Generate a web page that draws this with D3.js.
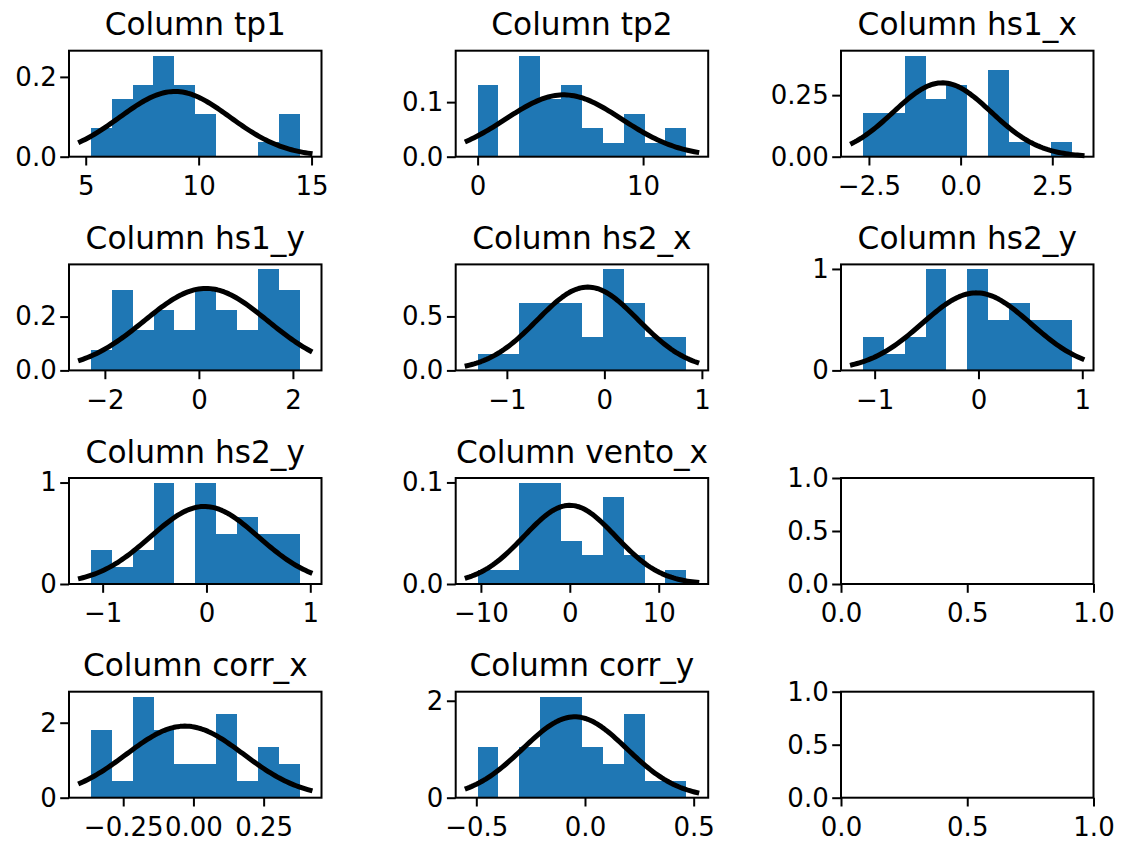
<!DOCTYPE html>
<html>
<head>
<meta charset="utf-8">
<script src="https://cdn.jsdelivr.net/npm/d3@7"></script>
<style>
  body { margin: 0; background: #fff; }
  text { font-family: "DejaVu Sans", sans-serif; fill: #000; }
</style>
</head>
<body>
<div id="chart"></div>
<script>
// histogram data (density heights, 10 bins each)
const titles = ["Column tp1", "Column tp2", "Column hs1_x", "Column hs1_y", "Column hs2_x",
                "Column hs2_y", "Column hs2_y", "Column vento_x", "Column corr_x", "Column corr_y"];

const binEdges = [
  [5.23, 6.15, 7.08, 8.00, 8.93, 9.85, 10.77, 11.70, 12.62, 13.55, 14.47],
  [0.00, 1.26, 2.52, 3.78, 5.04, 6.31, 7.57, 8.83, 10.09, 11.35, 12.61],
  [-2.664, -2.095, -1.526, -0.957, -0.388, 0.181, 0.750, 1.319, 1.888, 2.457, 3.026],
  [-2.297, -1.853, -1.409, -0.965, -0.521, -0.078, 0.366, 0.810, 1.254, 1.698, 2.142],
  [-1.300, -1.086, -0.872, -0.658, -0.444, -0.230, -0.016, 0.198, 0.412, 0.626, 0.840],
  [-1.113, -0.912, -0.711, -0.510, -0.309, -0.108, 0.093, 0.294, 0.495, 0.696, 0.897],
  [-1.113, -0.912, -0.711, -0.510, -0.309, -0.108, 0.093, 0.294, 0.495, 0.696, 0.897],
  [-10.37, -8.02, -5.68, -3.33, -0.98, 1.37, 3.71, 6.06, 8.41, 10.75, 13.10],
  [-0.365, -0.291, -0.216, -0.142, -0.068, 0.007, 0.081, 0.155, 0.229, 0.304, 0.378],
  [-0.494, -0.398, -0.302, -0.206, -0.110, -0.014, 0.082, 0.178, 0.274, 0.370, 0.466]
];

const heights = [
  [0.072, 0.144, 0.180, 0.253, 0.180, 0.108, 0, 0, 0.036, 0.108],
  [0.132, 0, 0.185, 0.106, 0.132, 0.053, 0.026, 0.079, 0.026, 0.053],
  [0.176, 0.176, 0.410, 0.234, 0.293, 0, 0.351, 0.059, 0, 0.059],
  [0.075, 0.300, 0.150, 0.225, 0.150, 0.300, 0.225, 0.150, 0.375, 0.300],
  [0.156, 0.156, 0.623, 0.623, 0.623, 0.312, 0.935, 0.623, 0.312, 0.312],
  [0.332, 0.166, 0.332, 0.995, 0, 0.995, 0.497, 0.663, 0.497, 0.497],
  [0.332, 0.166, 0.332, 0.995, 0, 0.995, 0.497, 0.663, 0.497, 0.497],
  [0.0142, 0.0142, 0.0994, 0.0994, 0.0426, 0.0284, 0.0852, 0.0284, 0, 0.0142],
  [1.794, 0.449, 2.692, 1.794, 0.897, 0.897, 2.243, 0.449, 1.346, 0.897],
  [1.042, 0, 1.042, 2.083, 2.083, 1.042, 0.694, 1.736, 0.347, 0.347]
];

// fitted normal curve parameters
const mus    = [8.95, 5.2, -0.5, 0.15, -0.17, -0.02, -0.02, 0.0, -0.03, -0.047];
const sigmas = [2.44, 3.52, 1.33, 1.31, 0.517, 0.522, 0.522, 5.15, 0.209, 0.239];

const xTicks = [[5, 10, 15], [0, 10], [-2.5, 0, 2.5], [-2, 0, 2], [-1, 0, 1],
                [-1, 0, 1], [-1, 0, 1], [-10, 0, 10], [-0.25, 0, 0.25], [-0.5, 0, 0.5]];
const xTickLabels = [["5", "10", "15"], ["0", "10"], ["\u22122.5", "0.0", "2.5"], ["\u22122", "0", "2"],
                     ["\u22121", "0", "1"], ["\u22121", "0", "1"], ["\u22121", "0", "1"],
                     ["\u221210", "0", "10"], ["\u22120.25", "0.00", "0.25"], ["\u22120.5", "0.0", "0.5"]];
const yTicks = [[0, 0.2], [0, 0.1], [0, 0.25], [0, 0.2], [0, 0.5], [0, 1], [0, 1], [0, 0.1], [0, 2], [0, 2]];
const yTickLabels = [["0.0", "0.2"], ["0.0", "0.1"], ["0.00", "0.25"], ["0.0", "0.2"], ["0.0", "0.5"],
                     ["0", "1"], ["0", "1"], ["0.0", "0.1"], ["0", "2"], ["0", "2"]];

const slots = [0, 1, 2, 3, 4, 5, 6, 7, 9, 10];
const emptySlots = [8, 11];
const emptyTicks = [0, 0.5, 1];
const emptyTickLabels = ["0.0", "0.5", "1.0"];

// layout
const W = 1121, H = 841;
const colLeft = [69, 455.7, 841], axW = 252.5;
const rowTop = [50.7, 264.4, 478, 691.7], axH = 106;
const lw = 2, tickLen = 8.8, tickFont = 26, titleFont = 31.2;

const svg = d3.select("#chart").append("svg")
  .attr("width", W).attr("height", H);

function pad(lo, hi) {
  const m = (hi - lo) * 0.05;
  return [lo - m, hi + m];
}

function styleAxis(g) {
  g.select(".domain").remove();
  g.selectAll(".tick line").attr("stroke", "#000").attr("stroke-width", lw);
  g.selectAll(".tick text").style("font-size", tickFont + "px").attr("fill", "#000");
}

function drawFrame(g, x, y, xt, xl, yt, yl) {
  g.append("g")
    .attr("transform", `translate(0,${axH})`)
    .call(d3.axisBottom(x).tickValues(xt).tickFormat((d, i) => xl[i])
      .tickSize(tickLen).tickPadding(11))
    .call(styleAxis);
  g.append("g")
    .call(d3.axisLeft(y).tickValues(yt).tickFormat((d, i) => yl[i])
      .tickSize(tickLen).tickPadding(3.5))
    .call(styleAxis);
  g.append("rect")
    .attr("width", axW).attr("height", axH)
    .attr("fill", "none").attr("stroke", "#000").attr("stroke-width", lw);
}

titles.forEach((title, i) => {
  const slot = slots[i];
  const g = svg.append("g")
    .attr("transform", `translate(${colLeft[slot % 3]},${rowTop[Math.floor(slot / 3)]})`);

  const edges = binEdges[i];
  const bins = heights[i].map((h, k) => ({ x0: edges[k], x1: edges[k + 1], h }));

  // curve spans the histogram's own autoscaled range, then the axes pad again
  const [c0, c1] = pad(edges[0], edges[edges.length - 1]);
  const norm = v => Math.exp(-0.5 * ((v - mus[i]) / sigmas[i]) ** 2) / (sigmas[i] * Math.sqrt(2 * Math.PI));
  const curve = d3.range(100).map(k => {
    const v = c0 + (c1 - c0) * k / 99;
    return [v, norm(v)];
  });

  const x = d3.scaleLinear().domain(pad(c0, c1)).range([0, axW]);
  const ymax = Math.max(d3.max(heights[i]), d3.max(curve, d => d[1])) * 1.05;
  const y = d3.scaleLinear().domain([0, ymax]).range([axH, 0]);

  g.selectAll("rect.bar")
    .data(bins)
    .enter()
    .append("rect")
    .attr("class", "bar")
    .attr("x", d => x(d.x0))
    .attr("width", d => x(d.x1) - x(d.x0))
    .attr("y", d => y(d.h))
    .attr("height", d => y(0) - y(d.h))
    .attr("fill", "#1f77b4")
    .attr("shape-rendering", "crispEdges");

  g.append("path")
    .datum(curve)
    .attr("d", d3.line().x(d => x(d[0])).y(d => y(d[1])))
    .attr("fill", "none")
    .attr("stroke", "#000")
    .attr("stroke-width", 5)
    .attr("stroke-linecap", "square")
    .attr("stroke-linejoin", "round");

  drawFrame(g, x, y, xTicks[i], xTickLabels[i], yTicks[i], yTickLabels[i]);

  g.append("text")
    .attr("x", axW / 2)
    .attr("y", -15.5)
    .attr("text-anchor", "middle")
    .style("font-size", titleFont + "px")
    .text(title);
});

emptySlots.forEach(slot => {
  const g = svg.append("g")
    .attr("transform", `translate(${colLeft[slot % 3]},${rowTop[Math.floor(slot / 3)]})`);
  const x = d3.scaleLinear().domain([0, 1]).range([0, axW]);
  const y = d3.scaleLinear().domain([0, 1]).range([axH, 0]);
  drawFrame(g, x, y, emptyTicks, emptyTickLabels, emptyTicks, emptyTickLabels);
});
</script>
</body>
</html>
